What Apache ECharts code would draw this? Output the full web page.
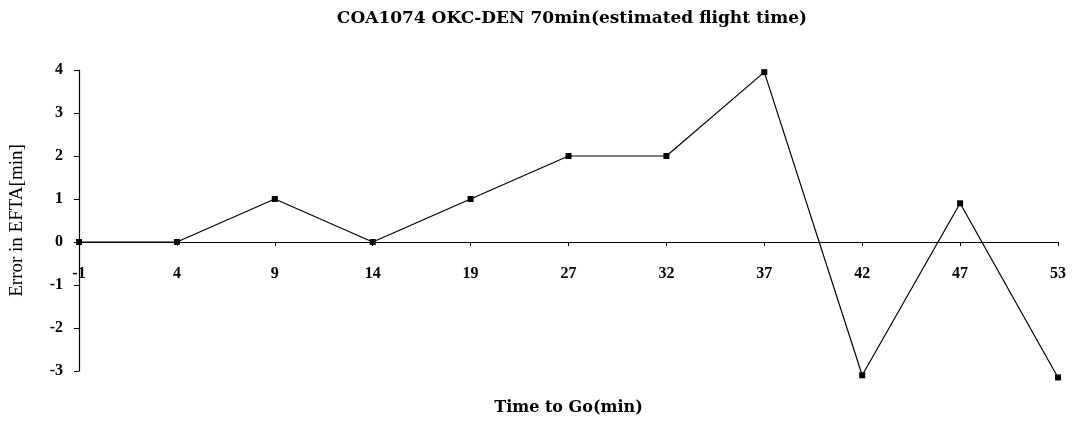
<!DOCTYPE html>
<html>
<head>
<meta charset="utf-8">
<script src="https://cdn.jsdelivr.net/npm/echarts@6/dist/echarts.min.js"></script>
<style>
  html, body { margin: 0; padding: 0; background: #fff; }
  #main { width: 1081px; height: 433px; }
</style>
</head>
<body>
<div id="main"></div>
<script>
// time to go (min)
var timeToGo = ['-1', '4', '9', '14', '19', '27', '32', '37', '42', '47', '53']
// error in EFTA (min)
var errorValues = [0, 0, 1, 0, 1, 2, 2, 3.95, -3.1, 0.9, -3.15]
var yTicks = { min: -3, max: 4, step: 1 }

var serif = '"Liberation Serif", "DejaVu Serif", serif'
var wideSerif = '"DejaVu Serif", serif'

var gridTop = 70
var gridBottom = 62
var plotHeight = 433 - gridTop - gridBottom
// move the category axis up onto y = 0
var zeroOffset = -plotHeight * (0 - yTicks.min) / (yTicks.max - yTicks.min)

var chart = echarts.init(document.getElementById('main'))
var option = {
  backgroundColor: '#fff',
  animation: false,
  title: {
    text: 'COA1074 OKC-DEN 70min(estimated flight time)',
    left: 567,
    textAlign: 'center',
    top: 5,
    textStyle: { fontFamily: wideSerif, fontSize: 17, fontWeight: 'bold', color: '#000' }
  },
  grid: { left: 79, right: 23, top: gridTop, bottom: gridBottom, containLabel: false, outerBoundsMode: 'none' },
  xAxis: {
    type: 'category',
    data: timeToGo,
    boundaryGap: false,
    position: 'bottom',
    offset: zeroOffset,
    name: 'Time to Go(min)',
    nameLocation: 'middle',
    nameGap: 158,
    nameTextStyle: { fontFamily: wideSerif, fontSize: 16, fontWeight: 'bold', color: '#000' },
    axisLine: { onZero: false, lineStyle: { color: '#000', width: 1.2 } },
    axisTick: { show: true, length: 4, lineStyle: { color: '#000' } },
    axisLabel: { margin: 24, fontFamily: serif, fontSize: 16, fontWeight: 'bold', color: '#000' },
    splitLine: { show: false }
  },
  yAxis: {
    type: 'value',
    min: yTicks.min,
    max: yTicks.max,
    interval: yTicks.step,
    name: 'Error in EFTA[min]',
    nameLocation: 'middle',
    nameGap: 52,
    nameTextStyle: { fontFamily: serif, fontSize: 19, color: '#000' },
    axisLine: { show: true, lineStyle: { color: '#000', width: 1.2 } },
    axisTick: { show: true, length: 5, lineStyle: { color: '#000' } },
    axisLabel: { margin: 16, fontFamily: serif, fontSize: 16, fontWeight: 'bold', color: '#000' },
    splitLine: { show: false }
  },
  series: [
    {
      type: 'line',
      data: errorValues,
      clip: false,
      symbol: 'rect',
      symbolSize: 6,
      itemStyle: { color: '#000' },
      lineStyle: { color: '#000', width: 1.2 }
    }
  ]
}
chart.setOption(option)
</script>
</body>
</html>
